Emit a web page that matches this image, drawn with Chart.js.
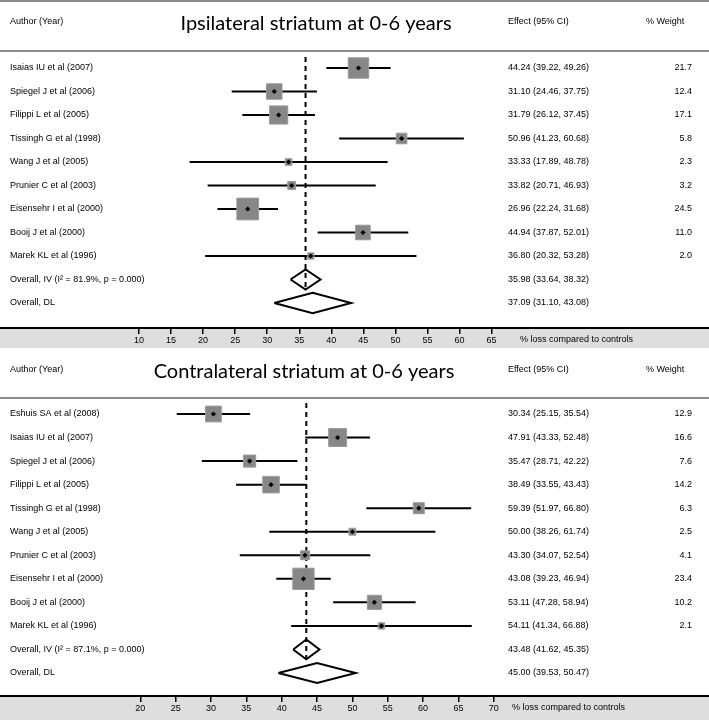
<!DOCTYPE html>
<html><head><meta charset="utf-8">
<script src="https://cdn.jsdelivr.net/npm/chart.js@4/dist/chart.umd.min.js"></script>
<style>html,body{margin:0;padding:0;background:#fff;overflow:hidden}canvas{display:block}</style>
</head><body>
<canvas id="c1" width="709" height="348"></canvas>
<canvas id="c2" width="709" height="372"></canvas>
<script>
// ---------- Panel 1: Ipsilateral ----------
const ipsiTitle = "Ipsilateral striatum at 0-6 years";
const ipsiStudies = ["Isaias IU et al (2007)","Spiegel J et al (2006)","Filippi L et al (2005)","Tissingh G et al (1998)","Wang J et al (2005)","Prunier C et al (2003)","Eisensehr I et al (2000)","Booij J et al (2000)","Marek KL et al (1996)"];
const ipsiEffect = [44.24,31.10,31.79,50.96,33.33,33.82,26.96,44.94,36.80];
const ipsiLower  = [39.22,24.46,26.12,41.23,17.89,20.71,22.24,37.87,20.32];
const ipsiUpper  = [49.26,37.75,37.45,60.68,48.78,46.93,31.68,52.01,53.28];
const ipsiWeight = [21.7,12.4,17.1,5.8,2.3,3.2,24.5,11.0,2.0];
const ipsiOverallLabels = ["Overall, IV (I\u00B2 = 81.9%, p = 0.000)","Overall, DL"];
const ipsiOverallEffect = [35.98,37.09];
const ipsiOverallLower  = [33.64,31.10];
const ipsiOverallUpper  = [38.32,43.08];
const ipsiTicks = [10,15,20,25,30,35,40,45,50,55,60,65];

// ---------- Panel 2: Contralateral ----------
const contraTitle = "Contralateral striatum at 0-6 years";
const contraStudies = ["Eshuis SA et al (2008)","Isaias IU et al (2007)","Spiegel J et al (2006)","Filippi L et al (2005)","Tissingh G et al (1998)","Wang J et al (2005)","Prunier C et al (2003)","Eisensehr I et al (2000)","Booij J et al (2000)","Marek KL et al (1996)"];
const contraEffect = [30.34,47.91,35.47,38.49,59.39,50.00,43.30,43.08,53.11,54.11];
const contraLower  = [25.15,43.33,28.71,33.55,51.97,38.26,34.07,39.23,47.28,41.34];
const contraUpper  = [35.54,52.48,42.22,43.43,66.80,61.74,52.54,46.94,58.94,66.88];
const contraWeight = [12.9,16.6,7.6,14.2,6.3,2.5,4.1,23.4,10.2,2.1];
const contraOverallLabels = ["Overall, IV (I\u00B2 = 87.1%, p = 0.000)","Overall, DL"];
const contraOverallEffect = [43.48,45.00];
const contraOverallLower  = [41.62,39.53];
const contraOverallUpper  = [45.35,50.47];
const contraTicks = [20,25,30,35,40,45,50,55,60,65,70];

const axisTitle = "% loss compared to controls";
const SMALL_FONT = '9px "Liberation Sans", Arial, sans-serif';

function makePanel(id, d, layout) {
  const n = d.studies.length;
  const ciPts = [], boxPts = [], boxR = [], centerPts = [], diaPts = [];
  d.studies.forEach((s, i) => {
    ciPts.push({x: d.lower[i], y: i}, {x: d.upper[i], y: i}, {x: d.lower[i], y: null});
    boxPts.push({x: d.effect[i], y: i});
    boxR.push(layout.boxK * Math.sqrt(d.weight[i]) / Math.SQRT2);
    centerPts.push({x: d.effect[i], y: i});
  });
  const h = layout.diaHalf;
  d.oEffect.forEach((e, j) => {
    const r = n + j;
    diaPts.push({x: d.oLower[j], y: r}, {x: e, y: r - h}, {x: d.oUpper[j], y: r}, {x: e, y: r + h}, {x: d.oLower[j], y: r}, {x: e, y: null});
  });
  const dashPts = [{x: d.oEffect[0], y: -0.47}, {x: d.oEffect[0], y: n + h}];

  const plugin = {
    id: 'forestText' + id,
    beforeDraw(chart) {
      const {ctx, chartArea: a, width, height} = chart;
      ctx.save();
      ctx.fillStyle = '#dedede';
      ctx.fillRect(0, a.bottom, width, height - a.bottom);
      ctx.fillStyle = '#8a8a8a';
      if (layout.topLine) ctx.fillRect(0, 0, width, 2);
      ctx.fillRect(0, a.top - 1, width, 2);
      ctx.restore();
    },
    afterDraw(chart) {
      const {ctx, chartArea: a} = chart;
      const ys = chart.scales.y;
      ctx.save();
      ctx.fillStyle = '#000';
      ctx.font = SMALL_FONT;
      ctx.textBaseline = 'middle';
      ctx.textAlign = 'left';
      ctx.fillText('Author (Year)', 10, 22);
      ctx.fillText('Effect (95% CI)', 508, 22);
      ctx.fillText('% Weight', 646, 22);
      const allLabels = d.studies.concat(d.oLabels);
      const allE = d.effect.concat(d.oEffect), allL = d.lower.concat(d.oLower), allU = d.upper.concat(d.oUpper);
      allLabels.forEach((lab, i) => {
        const y = ys.getPixelForValue(i);
        ctx.textAlign = 'left';
        ctx.fillText(lab, 10, y);
        ctx.fillText(allE[i].toFixed(2) + ' (' + allL[i].toFixed(2) + ', ' + allU[i].toFixed(2) + ')', 508, y);
        if (i < n) {
          ctx.textAlign = 'right';
          ctx.fillText(d.weight[i].toFixed(1), 692, y);
        }
      });
      ctx.textAlign = 'left';
      ctx.fillText(axisTitle, layout.axisTitleX, a.bottom + 12);
      ctx.font = '20px Lato, "Open Sans", sans-serif';
      ctx.textAlign = 'center';
      ctx.textBaseline = 'alphabetic';
      ctx.fillText(d.title, layout.titleX, 30);
      ctx.restore();
    }
  };

  return new Chart(document.getElementById(id), {
    type: 'scatter',
    data: {
      datasets: [
        {order: 0, data: centerPts, pointStyle: 'rectRot', pointRadius: 2.6, backgroundColor: '#000', borderColor: '#000', borderWidth: 0},
        {order: 1, data: boxPts, pointStyle: 'rect', pointRadius: boxR, backgroundColor: '#878787', borderColor: '#9a9a9a', borderWidth: 1},
        {order: 2, data: ciPts, showLine: true, spanGaps: false, pointRadius: 0, borderColor: '#000', borderWidth: 2},
        {order: 3, data: diaPts, showLine: true, spanGaps: false, pointRadius: 0, borderColor: '#000', borderWidth: 2, fill: false},
        {order: 4, data: dashPts, showLine: true, pointRadius: 0, borderColor: '#000', borderWidth: 2, borderDash: [5, 4]}
      ]
    },
    options: {
      responsive: false, animation: false, events: [],
      layout: {autoPadding: false, padding: {top: layout.top, left: 0, right: 0, bottom: 0}},
      plugins: {legend: {display: false}, tooltip: {enabled: false}},
      scales: {
        y: {type: 'linear', reverse: true, display: false, min: layout.yMin, max: layout.yMax},
        x: {
          type: 'linear', position: 'bottom', min: layout.xMin, max: layout.xMax,
          afterBuildTicks: (s) => { s.ticks = d.ticks.map(v => ({value: v})); },
          afterFit: (s) => { s.height = layout.axisH; s.paddingLeft = 0; s.paddingRight = 0; },
          border: {display: true, color: '#000', width: 2},
          grid: {drawOnChartArea: false, drawTicks: true, tickLength: 6, color: '#000', lineWidth: 1.5},
          ticks: {color: '#000', font: {family: '"Liberation Sans", Arial, sans-serif', size: 9}, padding: 1, maxRotation: 0, autoSkip: false}
        }
      }
    },
    plugins: [plugin]
  });
}

makePanel('c1', {
  title: ipsiTitle, studies: ipsiStudies, effect: ipsiEffect, lower: ipsiLower, upper: ipsiUpper, weight: ipsiWeight,
  oLabels: ipsiOverallLabels, oEffect: ipsiOverallEffect, oLower: ipsiOverallLower, oUpper: ipsiOverallUpper, ticks: ipsiTicks
}, {top: 51, axisH: 20, yMin: -0.7234, yMax: 11.064, xMin: -11.685, xMax: 98.92, boxK: 4.4, diaHalf: 0.43, topLine: true, titleX: 316, axisTitleX: 520});

makePanel('c2', {
  title: contraTitle, studies: contraStudies, effect: contraEffect, lower: contraLower, upper: contraUpper, weight: contraWeight,
  oLabels: contraOverallLabels, oEffect: contraOverallEffect, oLower: contraOverallLower, oUpper: contraOverallUpper, ticks: contraTicks
}, {top: 50, axisH: 24, yMin: -0.6796, yMax: 11.977, xMin: 0.156, xMax: 100.44, boxK: 4.4, diaHalf: 0.42, topLine: false, titleX: 304, axisTitleX: 512});
</script>
</body></html>
